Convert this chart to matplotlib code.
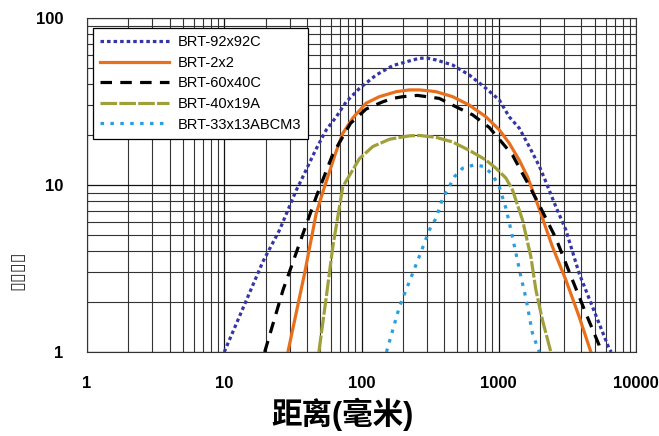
import matplotlib
matplotlib.use("Agg")
import matplotlib.pyplot as plt
from matplotlib.ticker import LogLocator, NullFormatter, FixedLocator

# values (distance in mm, response)
x_92x92C = [10, 19.1, 25.3, 33.5, 35.4, 46.3, 55.4, 65.5, 77.4, 96.7, 128, 169, 223,
            264, 302, 349, 461, 610, 807, 1009, 1192, 1410, 1667, 1972, 2178, 2607,
            3083, 3850, 4810, 6364, 6600]
y_92x92C = [1, 3.47, 5.38, 9.33, 10.2, 16.2, 21.4, 25.6, 31.5, 37.9, 45.6, 51.9, 55.3,
            57.4, 57.5, 56.1, 52.3, 45.6, 37.9, 32.3, 25.6, 21.9, 17.0, 13.0, 10.7, 7.41,
            5.38, 2.96, 1.87, 1.05, 1]

x_2x2 = [29.1, 38.5, 46.8, 53.8, 64.7, 73.1, 86.5, 108, 135, 179, 223, 264, 304,
         349, 461, 610, 807, 1009, 1192, 1410, 1621, 1972, 2461, 3083, 3850, 4690]
y_2x2 = [1, 2.96, 6.77, 9.77, 15.5, 20.4, 25.2, 30.9, 33.8, 36.2, 37.1, 37.1, 36.7,
         36.2, 33.8, 30.1, 25.6, 21.4, 17.8, 14.1, 11.2, 7.2, 4.27, 2.70, 1.63, 1]

x_60x40C = [19.7, 26.8, 35.4, 46.8, 61.8, 83.2, 108, 143, 169, 200, 255, 369,
            488, 645, 853, 1066, 1260, 1490, 1667, 1972, 2607, 3443, 4305, 5383, 5564]
y_60x40C = [1, 2.35, 4.48, 8.51, 15.3, 23.4, 28.5, 31.5, 33.0, 33.8, 34.4, 33.0,
            29.4, 26.3, 22.1, 17.8, 15.1, 11.7, 9.9, 7.59, 4.80, 2.70, 1.71, 1.10, 1]

x_40x19A = [48.9, 55.4, 61.8, 73.1, 96.7, 121, 160, 223, 264, 349, 461, 621, 807, 954,
            1128, 1260, 1490, 1714, 1865, 2083, 2397]
y_40x19A = [1, 2.14, 4.27, 9.77, 14.4, 17.0, 18.8, 19.7, 19.8, 19.3, 18.1, 16.0, 14.1,
            12.6, 11.0, 9.33, 6.17, 3.72, 2.35, 1.55, 1]

x_33x13 = [152, 189, 236, 272, 312, 349, 390, 436, 475, 545, 663, 785, 901, 1009, 1128,
           1227, 1334, 1450, 1577, 1762, 1972]
y_33x13 = [1, 1.87, 2.96, 3.99, 5.38, 6.32, 8.32, 9.77, 11.2, 12.6, 13.2, 12.9, 11.5,
           9.77, 7.25, 5.38, 3.90, 2.83, 2.10, 1.29, 1]

labels = ["BRT-92x92C", "BRT-2x2", "BRT-60x40C", "BRT-40x19A", "BRT-33x13ABCM3"]
x_ticks = [1, 10, 100, 1000, 10000]
y_ticks = [1, 10, 100]

fig = plt.figure(figsize=(6.59, 4.36), dpi=100)
ax = fig.add_axes([87 / 659, 84 / 436, 549 / 659, 334 / 436])

lw = 2.3
ax.plot(x_92x92C, y_92x92C, color="#3535a5", lw=lw, linestyle=(0, (1.1, 0.95)),
        dash_capstyle="butt", label=labels[0])
ax.plot(x_2x2, y_2x2, color="#e8701c", lw=lw, label=labels[1])
ax.plot(x_60x40C, y_60x40C, color="black", lw=lw, linestyle=(0, (3.6, 2.6)),
        label=labels[2])
ax.plot(x_40x19A, y_40x19A, color="#a0a03a", lw=lw, linestyle=(0, (5.2, 0.7)),
        label=labels[3])
ax.plot(x_33x13, y_33x13, color="#2a9ee0", lw=lw, linestyle=(0, (1.1, 2.0)),
        dash_capstyle="butt", label=labels[4])

ax.set_xscale("log")
ax.set_yscale("log")
ax.set_xlim(1, 10000)
ax.set_ylim(1, 100)

ax.xaxis.set_major_locator(FixedLocator(x_ticks))
ax.yaxis.set_major_locator(FixedLocator(y_ticks))
ax.xaxis.set_minor_locator(LogLocator(base=10, subs=range(2, 10)))
ax.yaxis.set_minor_locator(LogLocator(base=10, subs=range(2, 10)))
ax.xaxis.set_minor_formatter(NullFormatter())
ax.yaxis.set_minor_formatter(NullFormatter())
ax.set_xticklabels([str(t) for t in x_ticks])
ax.set_yticklabels([str(t) for t in y_ticks])

ax.grid(True, which="major", color="#111111", lw=0.9)
ax.grid(True, which="minor", color="#333333", lw=0.8)
ax.set_axisbelow(True)
for s in ax.spines.values():
    s.set_color("#333333")
    s.set_linewidth(0.8)

ax.tick_params(which="both", length=0)
ax.tick_params(axis="x", pad=17)
ax.tick_params(axis="y", pad=17)
for t in ax.get_xticklabels() + ax.get_yticklabels():
    t.set_fontfamily("Liberation Sans")
    t.set_fontweight("bold")
    t.set_fontsize(12)

fig.text(343 / 659, 1 - 414 / 436, "距离(毫米)", family=["Liberation Sans", "Noto Sans CJK SC"],
         fontweight="bold", fontsize=22, ha="center", va="center")
fig.text(17 / 659, 166 / 436, "▯▯▯▯", rotation=90, fontsize=13,
         family="DejaVu Sans", ha="center", va="center", color="#333333")

leg = ax.legend(loc="upper left", bbox_to_anchor=(6 / 549, 1 - 10 / 334),
                borderaxespad=0, fancybox=False, framealpha=1, edgecolor="black",
                handlelength=4.7, handletextpad=0.6, labelspacing=0.45,
                borderpad=0.5, prop={"family": "Liberation Sans", "size": 10.5})
leg.get_frame().set_linewidth(0.9)

fig.savefig("out.png", dpi=100)
